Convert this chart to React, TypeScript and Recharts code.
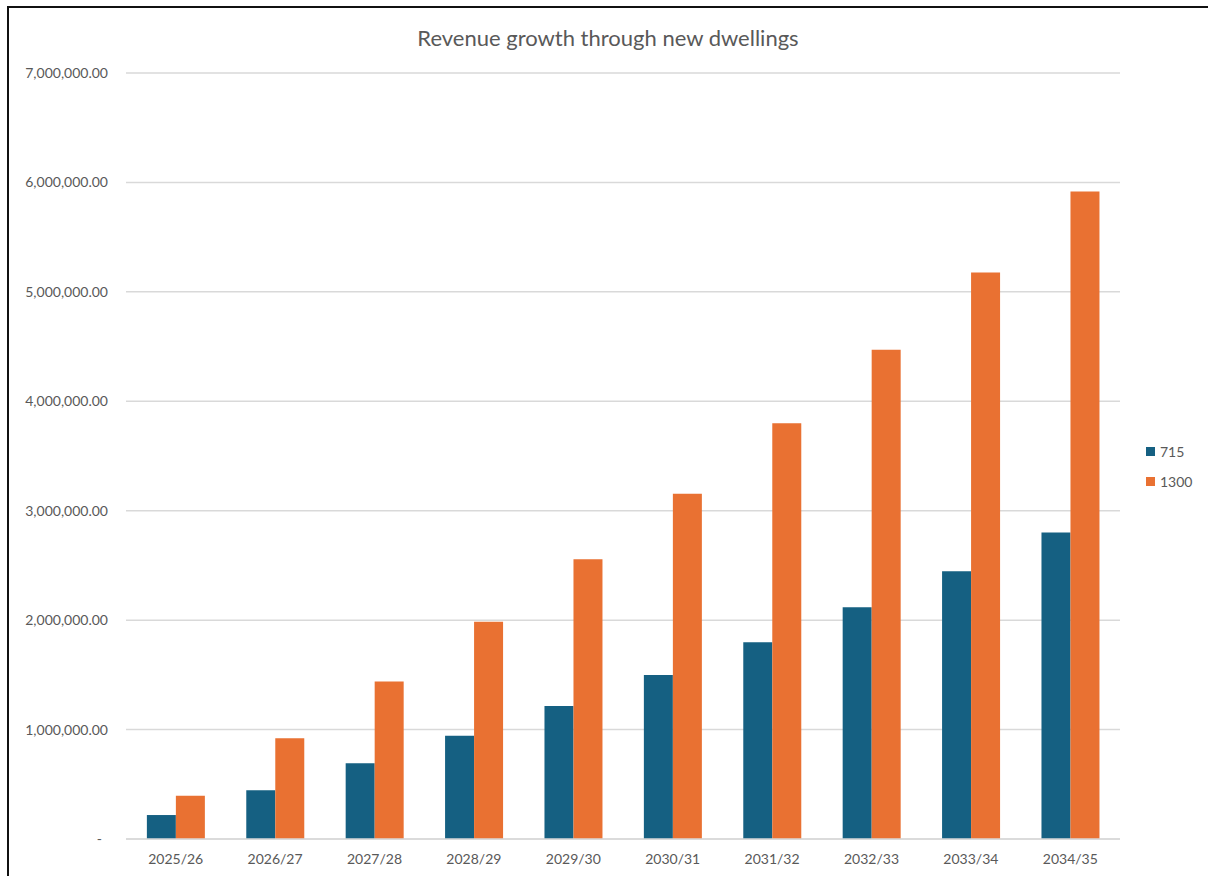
import { BarChart, Bar, XAxis, YAxis, CartesianGrid, Legend } from "recharts";

const years = ["2025/26", "2026/27", "2027/28", "2028/29", "2029/30", "2030/31", "2031/32", "2032/33", "2033/34", "2034/35"];
const revenue715 = [219000, 445000, 692000, 944000, 1216000, 1499000, 1798000, 2118000, 2447000, 2800000];
const revenue1300 = [396000, 920000, 1440000, 1986000, 2557000, 3156000, 3800000, 4470000, 5177000, 5917000];
const seriesNames = ["715", "1300"];
const yTicks = [0, 1000000, 2000000, 3000000, 4000000, 5000000, 6000000, 7000000];

const data = years.map((year, i) => ({
  year,
  s715: revenue715[i],
  s1300: revenue1300[i],
}));

const BLUE = "#156082";
const ORANGE = "#E97132";
const TEXT = "#595959";
const FONT = "Lato, 'Open Sans', sans-serif";

const fmtMoney = (v: number) =>
  v === 0 ? "-" : v.toLocaleString("en-US", { minimumFractionDigits: 2, maximumFractionDigits: 2 });

// accounting style: the dash for zero sits a little left of the numbers
function YTick({ x, y, payload }: any) {
  const zero = payload.value === 0;
  return (
    <text x={x} y={y} dx={zero ? -6 : 0} dy="0.355em" textAnchor="end" fill={TEXT} fontSize={14} fontFamily={FONT}>
      {fmtMoney(payload.value)}
    </text>
  );
}

// keep legend entries in series order (715 first)
function SideLegend({ payload }: any) {
  const items = [...(payload || [])].sort(
    (a: any, b: any) => seriesNames.indexOf(String(a.value)) - seriesNames.indexOf(String(b.value))
  );
  return (
    <div style={{ fontFamily: FONT, fontSize: 14, color: TEXT }}>
      {items.map((p: any) => (
        <div key={p.value} style={{ display: "flex", alignItems: "center", height: 30 }}>
          <span style={{ display: "inline-block", width: 9, height: 9, background: p.color, marginRight: 5 }} />
          {p.value}
        </div>
      ))}
    </div>
  );
}

export default function App() {
  return (
    <div
      style={{
        position: "fixed",
        top: 6,
        left: 7,
        width: 1201,
        height: 870,
        boxSizing: "border-box",
        borderTop: "2.5px solid #111",
        borderLeft: "2.5px solid #111",
        background: "#fff",
        fontFamily: FONT,
      }}
    >
      <div
        style={{
          position: "absolute",
          top: 16,
          left: 0,
          width: 1198,
          textAlign: "center",
          fontSize: 22,
          color: TEXT,
        }}
      >
        Revenue growth through new dwellings
      </div>
      <BarChart
        width={1198}
        height={866}
        data={data}
        margin={{ top: 65, right: 87, left: 0, bottom: 0 }}
        barCategoryGap="21%"
        barGap={0}
      >
        <CartesianGrid vertical={false} stroke="#D9D9D9" strokeWidth={1.5} />
        <XAxis
          dataKey="year"
          height={35}
          axisLine={{ stroke: "#D9D9D9", strokeWidth: 1.5 }}
          tickLine={false}
          tickSize={0}
          tickMargin={15}
          tick={{ fill: TEXT, fontSize: 14, fontFamily: FONT }}
        />
        <YAxis
          width={117}
          domain={[0, 7000000]}
          ticks={yTicks}
          axisLine={false}
          tickLine={false}
          tickSize={0}
          tickMargin={18}
          tick={<YTick />}
        />
        <Legend
          layout="vertical"
          align="center"
          verticalAlign="middle"
          content={<SideLegend />}
          wrapperStyle={{ left: 1137, top: 428, width: 60 }}
        />
        <Bar dataKey="s715" name="715" fill={BLUE} isAnimationActive={false} />
        <Bar dataKey="s1300" name="1300" fill={ORANGE} isAnimationActive={false} />
      </BarChart>
    </div>
  );
}
